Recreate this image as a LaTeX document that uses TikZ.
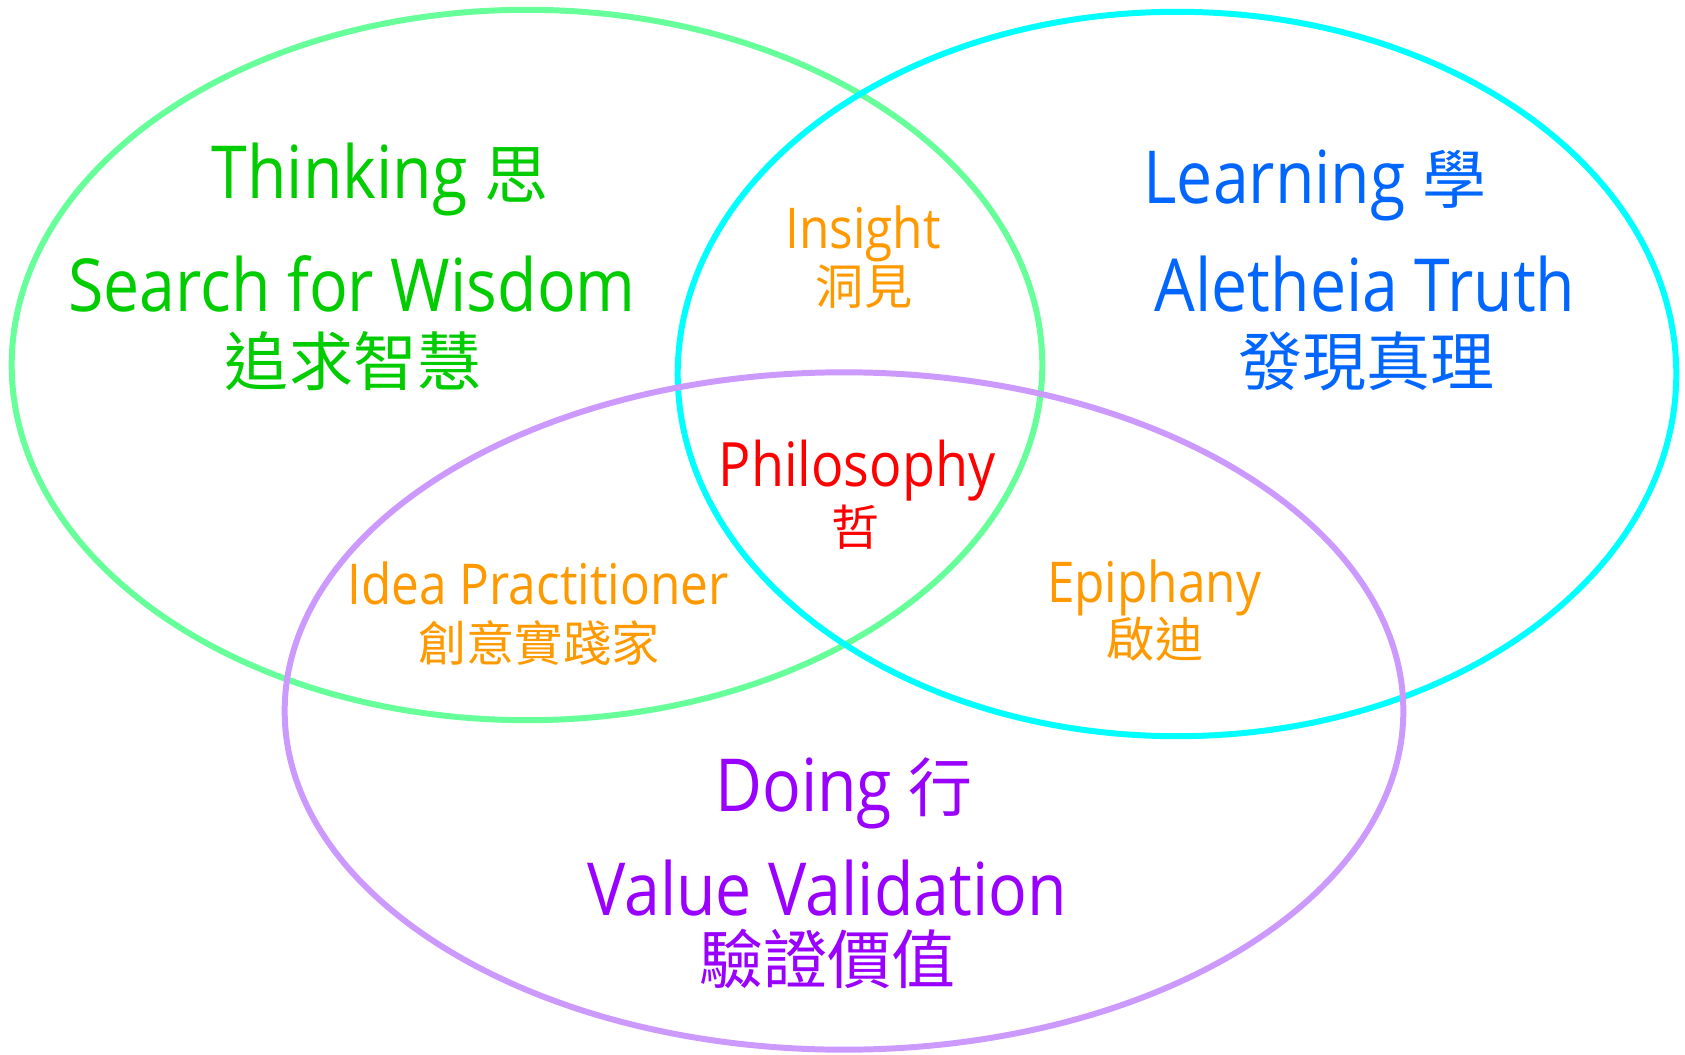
\documentclass[tikz,border=0pt]{standalone}
\usepackage{fontspec}
\setmainfont[FakeStretch=0.88]{Open Sans}
\newfontfamily\cjk{Noto Sans CJK TC}
\definecolor{vertpale}{RGB}{102,255,153}
\definecolor{cyanvif}{RGB}{0,255,255}
\definecolor{mauvepale}{RGB}{204,153,255}
\definecolor{vert}{RGB}{0,204,0}
\definecolor{bleu}{RGB}{0,102,255}
\definecolor{orange}{RGB}{255,153,0}
\definecolor{rouge}{RGB}{255,0,0}
\definecolor{violet}{RGB}{153,0,255}
\begin{document}
\begin{tikzpicture}[x=0.01cm,y=-0.01cm]
		\tikzstyle{cercle}=[line width=1.7pt]
		\tikzstyle{grand}=[inner sep=0pt,anchor=base,font=\fontsize{20.8}{24}\selectfont]
		\tikzstyle{grandcjk}=[inner sep=0pt,font=\cjk\fontsize{18.2}{20}\selectfont]
		\tikzstyle{petit}=[inner sep=0pt,anchor=base,font=\fontsize{16}{19}\selectfont]
		\tikzstyle{petitcjk}=[inner sep=0pt,font=\cjk\fontsize{13.7}{16}\selectfont]
		\def\Han#1{{\cjk\fontsize{18.2}{20}\selectfont #1}}
		\useasboundingbox (0,0) rectangle (1685,1055);
		\draw[cercle,vertpale] (527,365) ellipse [x radius=5.15cm,y radius=3.55cm];
		\draw[cercle,cyanvif] (1177,374) ellipse [x radius=4.99cm,y radius=3.62cm];
		\draw[cercle,mauvepale] (844,711) ellipse [x radius=5.59cm,y radius=3.385cm];
		% Penser
		\node[grand,vert] (Penser) at (380,199) {Thinking \Han{思}};
		\node[grand,vert] (Sagesse) at (352,312) {Search for Wisdom};
		\node[grandcjk,vert] (SagesseH) at (353,361) {追求智慧};
		% Apprendre
		\node[grand,bleu] (Apprendre) at (1315,204) {Learning \Han{學}};
		\node[grand,bleu] (Verite) at (1365,312) {Aletheia Truth};
		\node[grandcjk,bleu] (VeriteH) at (1366,361) {發現真理};
		% Faire
		\node[grand,violet] (Faire) at (844,811) {Doing \Han{行}};
		\node[grand,violet] (Valeur) at (827,915) {Value Validation};
		\node[grandcjk,violet] (ValeurH) at (827,959) {驗證價值};
		% intersections
		\node[petit,orange] (Intuition) at (863,249) {Insight};
		\node[petitcjk,orange] (IntuitionH) at (864,287) {洞見};
		\node[petit,orange] (Praticien) at (538,604) {Idea Practitioner};
		\node[petitcjk,orange] (PraticienH) at (539,643) {創意實踐家};
		\node[petit,orange] (Revelation) at (1154,602) {Epiphany};
		\node[petitcjk,orange] (RevelationH) at (1155,639) {啟迪};
		\node[petit,rouge,font=\fontsize{17.4}{20}\selectfont] (Philo) at (857,486) {Philosophy};
		\node[petitcjk,rouge] (PhiloH) at (856,527) {哲};
\end{tikzpicture}
\end{document}
